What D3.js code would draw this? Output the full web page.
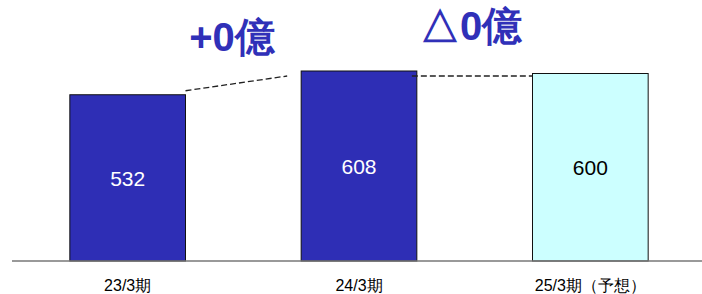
<!DOCTYPE html>
<html>
<head>
<meta charset="utf-8">
<script src="https://cdn.jsdelivr.net/npm/d3@7"></script>
<style>
  body { margin: 0; background: #fff; }
  text { font-family: "Liberation Sans", Arial, sans-serif; }
</style>
</head>
<body>
<svg id="chart"></svg>
<script>
const width = 702;
const height = 294;

const periods = ['23/3期', '24/3期', '25/3期（予想）'];
const values = [532, 608, 600];
const fills = ['#2E2EB5', '#2E2EB5', '#CCFFFF'];
const labelColors = ['#fff', '#fff', '#000'];
const diffLabels = ['+0億', '△0億'];

const baseY = 261;

const svg = d3.select('#chart')
    .attr('width', width)
    .attr('height', height);

const x = d3.scaleBand().domain(periods).range([12, 706]).paddingInner(0.5).paddingOuter(0.25);
const y = d3.scaleLinear().domain([0, 608]).range([baseY, 71]);

// bars
svg.selectAll('rect.bar').data(values).enter().append('rect')
    .attr('class', 'bar')
    .attr('x', (d, i) => x(periods[i]))
    .attr('y', d => y(d))
    .attr('width', x.bandwidth())
    .attr('height', d => baseY - y(d))
    .attr('fill', (d, i) => fills[i])
    .attr('stroke', '#111')
    .attr('stroke-width', 1);

// baseline
svg.append('line')
    .attr('x1', 12).attr('x2', 702)
    .attr('y1', baseY).attr('y2', baseY)
    .attr('stroke', '#777').attr('stroke-width', 1.5);

// value labels
svg.selectAll('text.val').data(values).enter().append('text')
    .attr('class', 'val')
    .attr('x', (d, i) => x(periods[i]) + x.bandwidth() / 2)
    .attr('y', d => (y(d) + baseY) / 2 + 8)
    .attr('text-anchor', 'middle')
    .attr('font-size', 21)
    .attr('fill', (d, i) => labelColors[i])
    .text(d => d);

// category labels
svg.selectAll('text.cat').data(periods).enter().append('text')
    .attr('class', 'cat')
    .attr('x', d => x(d) + x.bandwidth() / 2)
    .attr('y', 291)
    .attr('text-anchor', 'middle')
    .attr('font-size', 16)
    .attr('fill', '#000')
    .text(d => d);

// dashed connectors
const x0r = x(periods[0]) + x.bandwidth();
const x1l = x(periods[1]);
const x1r = x(periods[1]) + x.bandwidth();
const x2l = x(periods[2]);
svg.append('line')
    .attr('x1', x0r).attr('y1', y(values[0]) - 4)
    .attr('x2', x1l - 14).attr('y2', y(values[1]) + 5)
    .attr('stroke', '#222').attr('stroke-width', 1.3).attr('stroke-dasharray', '6,3');
svg.append('line')
    .attr('x1', x1r - 5).attr('y1', y(values[1]) + 5)
    .attr('x2', x2l).attr('y2', y(values[1]) + 5)
    .attr('stroke', '#222').attr('stroke-width', 1.3).attr('stroke-dasharray', '6,3');

// difference labels
svg.append('text')
    .attr('x', 232).attr('y', 51)
    .attr('text-anchor', 'middle')
    .attr('font-size', 40).attr('font-weight', 'bold')
    .attr('fill', '#3030B8')
    .text(diffLabels[0]);
svg.append('text')
    .attr('x', 471).attr('y', 40)
    .attr('text-anchor', 'middle')
    .attr('font-size', 40).attr('font-weight', 'bold')
    .attr('fill', '#3030B8')
    .text(diffLabels[1]);
</script>
</body>
</html>
